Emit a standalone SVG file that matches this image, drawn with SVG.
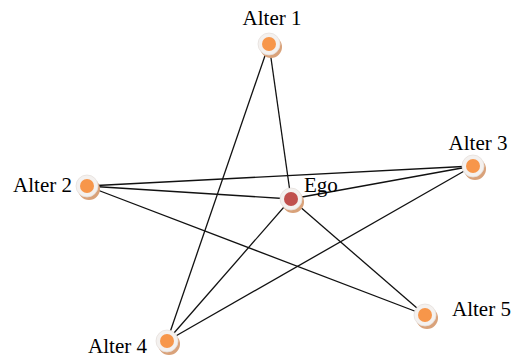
<svg xmlns="http://www.w3.org/2000/svg" width="520" height="358" viewBox="0 0 520 358">
  <style>
    .edge { stroke: #111; stroke-width: 1.3; fill: none; }
    .shadow { fill: #d9a27a; }
    .ring { fill: #f4f1ef; stroke: #e6e0dc; stroke-width: 0.8; }
    .dot { fill: #f7964a; }
    .dot.ego { fill: #c0504d; }
    .label { font-family: "Liberation Serif", "Times New Roman", serif; font-size: 21px; fill: #000; }
  </style>
  <rect width="520" height="358" fill="#fff"/>
  <g id="connectors">
    <line class="edge" x1="269" y1="44" x2="291" y2="199"/>
    <line class="edge" x1="269" y1="44" x2="167" y2="341"/>
    <line class="edge" x1="87" y1="186" x2="473" y2="166"/>
    <line class="edge" x1="87" y1="186" x2="291" y2="199"/>
    <line class="edge" x1="87" y1="186" x2="425" y2="315"/>
    <line class="edge" x1="473" y1="166" x2="291" y2="199"/>
    <line class="edge" x1="473" y1="166" x2="167" y2="341"/>
    <line class="edge" x1="291" y1="199" x2="167" y2="341"/>
    <line class="edge" x1="291" y1="199" x2="425" y2="315"/>
  </g>
  <g id="alter1">
    <circle class="shadow" cx="271" cy="47" r="11"/>
    <circle class="ring" cx="269" cy="44" r="11"/>
    <circle class="dot" cx="269" cy="44" r="7"/>
    <text class="label" x="272" y="25" text-anchor="middle">Alter 1</text>
  </g>
  <g id="ego">
    <circle class="shadow" cx="293" cy="202" r="11"/>
    <circle class="ring" cx="291" cy="199" r="11"/>
    <circle class="dot ego" cx="291" cy="199" r="7"/>
    <text class="label" x="304" y="192">Ego</text>
  </g>
  <g id="alter2">
    <circle class="shadow" cx="89" cy="189" r="11"/>
    <circle class="ring" cx="87" cy="186" r="11"/>
    <circle class="dot" cx="87" cy="186" r="7"/>
    <text class="label" x="72" y="192" text-anchor="end">Alter 2</text>
  </g>
  <g id="alter3">
    <circle class="shadow" cx="475" cy="169" r="11"/>
    <circle class="ring" cx="473" cy="166" r="11"/>
    <circle class="dot" cx="473" cy="166" r="7"/>
    <text class="label" x="478" y="150" text-anchor="middle">Alter 3</text>
  </g>
  <g id="alter4">
    <circle class="shadow" cx="169" cy="344" r="11"/>
    <circle class="ring" cx="167" cy="341" r="11"/>
    <circle class="dot" cx="167" cy="341" r="7"/>
    <text class="label" x="147" y="353" text-anchor="end">Alter 4</text>
  </g>
  <g id="alter5">
    <circle class="shadow" cx="427" cy="318" r="11"/>
    <circle class="ring" cx="425" cy="315" r="11"/>
    <circle class="dot" cx="425" cy="315" r="7"/>
    <text class="label" x="452" y="316">Alter 5</text>
  </g>
</svg>
